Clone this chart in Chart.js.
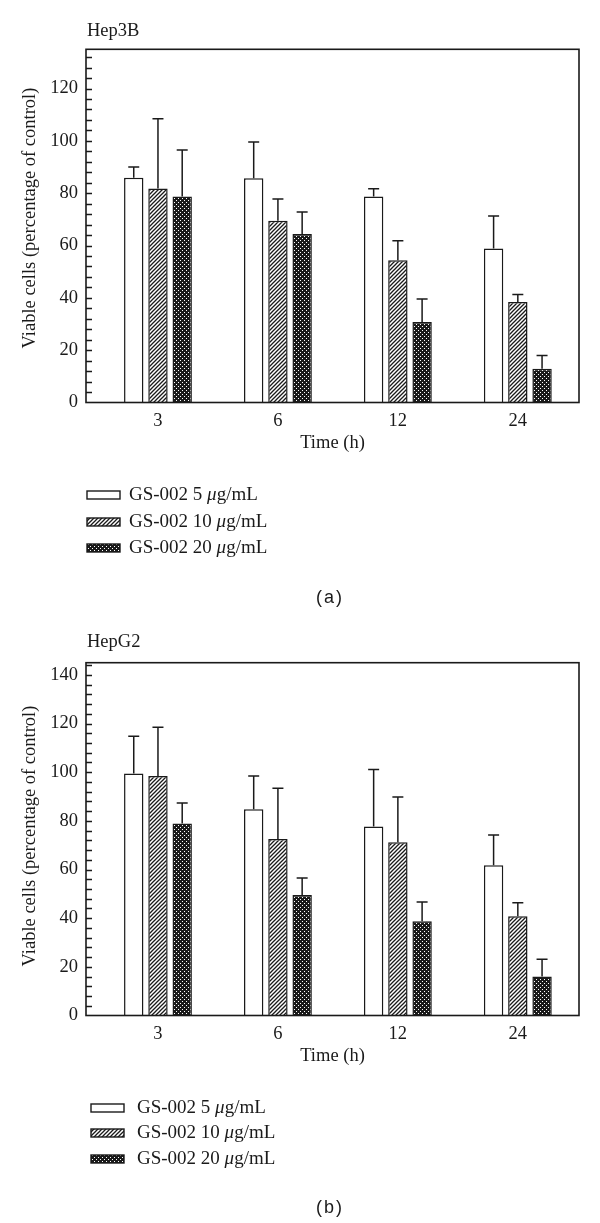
<!DOCTYPE html>
<html>
<head>
<meta charset="utf-8">
<script src="https://cdn.jsdelivr.net/npm/chart.js@4.4.0/dist/chart.umd.min.js"></script>
<style>
  body { margin: 0; background: #fff; }
  canvas { display: block; }
</style>
</head>
<body>
<canvas id="hep3b" width="600" height="615"></canvas>
<canvas id="hepg2" width="600" height="608"></canvas>
<script>
// time points (h)
const timeLabels = ['3', '6', '12', '24'];
const doseLabels = ['GS-002 5 μg/mL', 'GS-002 10 μg/mL', 'GS-002 20 μg/mL'];
const yTicksA = [0, 20, 40, 60, 80, 100, 120];
const yTicksB = [0, 20, 40, 60, 80, 100, 120, 140];

// Hep3B mean and SD
const hep3bMean5 = [85.9, 85.7, 78.7, 58.9];
const hep3bSd5 = [4.1, 13.9, 3.0, 12.4];
const hep3bMean10 = [81.8, 69.5, 54.4, 38.4];
const hep3bSd10 = [26.7, 8.3, 7.4, 2.9];
const hep3bMean20 = [78.7, 64.4, 30.8, 12.9];
const hep3bSd20 = [17.8, 8.4, 8.8, 5.1];

// HepG2 mean and SD
const hepg2Mean5 = [99.5, 84.8, 77.7, 61.8];
const hepg2Sd5 = [15.3, 13.6, 23.4, 12.4];
const hepg2Mean10 = [98.4, 72.5, 71.2, 40.8];
const hepg2Sd10 = [20.1, 20.9, 18.6, 5.5];
const hepg2Mean20 = [78.9, 49.5, 38.7, 16.0];
const hepg2Sd20 = [8.4, 7.0, 7.9, 7.1];

const INK = '#1a1a1a';
const SERIF = '"Liberation Serif", "Times New Roman", serif';

function hatchPattern(ctx) {
  const c = document.createElement('canvas');
  c.width = 4; c.height = 4;
  const g = c.getContext('2d');
  g.fillStyle = '#fff';
  g.fillRect(0, 0, 4, 4);
  g.strokeStyle = INK;
  g.lineWidth = 1.3;
  g.beginPath();
  g.moveTo(0, 4); g.lineTo(4, 0);
  g.moveTo(-1, 1); g.lineTo(1, -1);
  g.moveTo(3, 5); g.lineTo(5, 3);
  g.stroke();
  return ctx.createPattern(c, 'repeat');
}

function dotPattern(ctx) {
  const c = document.createElement('canvas');
  c.width = 4; c.height = 4;
  const g = c.getContext('2d');
  g.fillStyle = INK;
  g.fillRect(0, 0, 4, 4);
  g.fillStyle = '#fff';
  g.fillRect(0, 0, 1, 1);
  g.fillRect(2, 2, 1, 1);
  return ctx.createPattern(c, 'repeat');
}

// error bars, frame, inner ticks, title, legend
const decorPlugin = {
  id: 'decor',
  afterDatasetsDraw(chart) {
    const ctx = chart.ctx;
    const yScale = chart.scales.y;
    ctx.save();
    ctx.strokeStyle = INK;
    ctx.lineWidth = 1.5;
    chart.data.datasets.forEach((ds, di) => {
      const meta = chart.getDatasetMeta(di);
      meta.data.forEach((bar, i) => {
        const yTop = yScale.getPixelForValue(ds.data[i].y + ds.sd[i]);
        ctx.beginPath();
        ctx.moveTo(bar.x, bar.y);
        ctx.lineTo(bar.x, yTop);
        ctx.moveTo(bar.x - 5.5, yTop);
        ctx.lineTo(bar.x + 5.5, yTop);
        ctx.stroke();
      });
    });
    ctx.restore();
  },
  afterDraw(chart, args, opts) {
    const ctx = chart.ctx;
    const area = chart.chartArea;
    const yScale = chart.scales.y;
    ctx.save();
    ctx.strokeStyle = INK;

    // inner minor ticks every 4 units
    ctx.lineWidth = 1.3;
    ctx.beginPath();
    for (let v = 4; v < yScale.max; v += 4) {
      const y = Math.round(yScale.getPixelForValue(v)) + 0.5;
      ctx.moveTo(area.left, y);
      ctx.lineTo(area.left + 6, y);
    }
    ctx.stroke();

    // frame
    ctx.lineWidth = 1.6;
    ctx.strokeRect(area.left, area.top, area.right - area.left, area.bottom - area.top);

    ctx.fillStyle = INK;
    // panel title
    ctx.font = '18.5px ' + SERIF;
    ctx.textBaseline = 'alphabetic';
    ctx.textAlign = 'left';
    ctx.fillText(opts.title, area.left + 1, opts.titleY);

    // y-axis title
    ctx.save();
    ctx.translate(30, opts.yTitleY);
    ctx.rotate(-Math.PI / 2);
    ctx.textAlign = 'center';
    ctx.textBaseline = 'middle';
    ctx.fillText('Viable cells (percentage of control)', 0, 0);
    ctx.restore();

    // legend
    ctx.textBaseline = 'middle';
    chart.data.datasets.forEach((ds, i) => {
      const yc = opts.legendY[i];
      ctx.fillStyle = ds.backgroundColor;
      ctx.fillRect(opts.legendX, yc - 4, 33, 8);
      ctx.lineWidth = 1.4;
      ctx.strokeRect(opts.legendX, yc - 4, 33, 8);
      ctx.fillStyle = INK;
      const parts = ds.label.split('μ');
      let x = opts.legendTextX;
      ctx.font = '19px ' + SERIF;
      ctx.fillText(parts[0], x, yc);
      x += ctx.measureText(parts[0]).width;
      ctx.font = 'italic 19px ' + SERIF;
      ctx.fillText('μ', x, yc);
      x += ctx.measureText('μ').width;
      ctx.font = '19px ' + SERIF;
      ctx.fillText(parts[1], x, yc);
    });

    // panel letter
    ctx.font = '18px "Liberation Sans", Arial, sans-serif';
    ctx.textAlign = 'center';
    ctx.letterSpacing = '2px';
    ctx.fillText(opts.panel, 330, opts.panelY);
    ctx.restore();
  }
};

function makeChart(id, means, sds, yMax, yTicks, top, bottom, decor) {
  const canvas = document.getElementById(id);
  const ctx = canvas.getContext('2d');
  const fills = ['#ffffff', hatchPattern(ctx), dotPattern(ctx)];
  const font = { family: SERIF, size: 18.5 };
  return new Chart(ctx, {
    type: 'bar',
    data: {
      datasets: doseLabels.map((label, d) => ({
        label: label,
        data: means[d].map((v, i) => ({ x: i, y: v })),
        sd: sds[d],
        backgroundColor: fills[d],
        borderColor: INK,
        borderWidth: 1.5,
        categoryPercentage: 0.606,
        barPercentage: 0.8
      }))
    },
    options: {
      responsive: false,
      animation: false,
      layout: { padding: { top: top, right: 21, bottom: canvas.height - bottom - 60, left: 0 } },
      plugins: {
        legend: { display: false },
        tooltip: { enabled: false },
        decor: decor
      },
      scales: {
        x: {
          type: 'linear',
          offset: false,
          min: -0.6,
          max: 3.51,
          grid: { display: false, drawTicks: false, offset: false },
          border: { display: false },
          afterBuildTicks: s => { s.ticks = timeLabels.map((t, i) => ({ value: i })); },
          afterFit: s => { s.height = 60; },
          ticks: { callback: v => timeLabels[v], padding: 8, font: font, color: INK, maxRotation: 0 },
          title: { display: true, text: 'Time (h)', font: font, color: INK, padding: { top: 0, bottom: 8 } }
        },
        y: {
          min: 0,
          max: yMax,
          grid: { display: false, drawTicks: false },
          border: { display: false },
          afterBuildTicks: s => { s.ticks = yTicks.map(v => ({ value: v })); },
          afterFit: s => { s.width = 86; },
          ticks: { padding: 8, font: font, color: INK }
        }
      }
    },
    plugins: [decorPlugin]
  });
}

makeChart('hep3b',
  [hep3bMean5, hep3bMean10, hep3bMean20],
  [hep3bSd5, hep3bSd10, hep3bSd20],
  135, yTicksA, 49.3, 402.5,
  { title: 'Hep3B', titleY: 36, yTitleY: 218, legendX: 87, legendTextX: 129, legendY: [495, 522, 548], panel: '(a)', panelY: 598 });

makeChart('hepg2',
  [hepg2Mean5, hepg2Mean10, hepg2Mean20],
  [hepg2Sd5, hepg2Sd10, hepg2Sd20],
  145, yTicksB, 47.7, 400.5,
  { title: 'HepG2', titleY: 32.3, yTitleY: 221, legendX: 91, legendTextX: 137, legendY: [493, 518, 544], panel: '(b)', panelY: 593 });
</script>
</body>
</html>
